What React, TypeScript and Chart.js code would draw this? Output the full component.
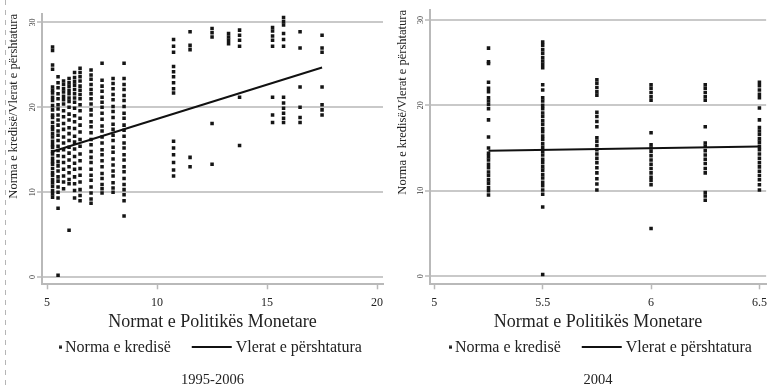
import React, { useEffect, useRef } from 'react';
import { Chart, registerables } from 'chart.js';

Chart.register(...registerables);

const FONT = "'Liberation Serif', 'Times New Roman', serif";

// ---- shared labels / ticks ----
const legendLabels = ['Norma e kredisë', 'Vlerat e përshtatura'];
const xAxisTitle = 'Normat e Politikës Monetare';
const yAxisTitle = 'Norma e kredisë/Vlerat e përshtatura';
const yTickValues = [0, 10, 20, 30];
const xTicks9506 = [5, 10, 15, 20];
const xTicks2004 = [5, 5.5, 6, 6.5];

// ---- panel 1: 1995-2006 ----
const policyRates9506 = [5.25, 5.5, 5.75, 6.0, 6.25, 6.5, 7.0, 7.5, 8.0, 8.5, 10.75, 11.5, 12.5, 13.25, 13.75, 15.25, 15.75, 16.5, 17.5];
const creditRates9506: number[][] = [
  [27.1, 26.7, 25.0, 24.5, 22.4, 22.0, 21.7, 21.2, 20.8, 20.2, 19.7, 19.1, 18.8, 18.2, 17.7, 17.4, 16.9, 16.5, 16.0, 15.6, 15.3, 14.8, 14.5, 14.0, 13.6, 13.3, 12.8, 12.3, 12.0, 11.5, 11.1, 10.7, 10.2, 9.8, 9.4],
  [23.6, 22.9, 22.3, 21.6, 21.0, 20.3, 19.8, 19.1, 18.5, 17.9, 17.2, 16.7, 16.1, 15.4, 14.9, 14.3, 13.6, 13.1, 12.5, 11.8, 11.3, 10.6, 10.0, 9.3, 8.1, 0.2],
  [23.1, 22.7, 22.2, 21.8, 21.3, 20.9, 20.4, 19.6, 18.9, 18.1, 17.4, 16.5, 15.8, 15.0, 14.2, 13.5, 12.7, 11.9, 11.2, 10.4],
  [23.4, 22.9, 22.5, 22.0, 21.6, 21.1, 20.7, 20.0, 19.2, 18.5, 17.6, 16.9, 16.1, 15.3, 14.6, 13.8, 13.0, 12.3, 11.5, 11.0, 5.5],
  [24.1, 23.5, 23.0, 22.6, 22.1, 21.6, 21.1, 20.6, 19.9, 19.0, 18.3, 17.5, 16.6, 15.9, 15.1, 14.2, 13.4, 12.7, 11.8, 11.0, 10.2, 9.3],
  [24.6, 24.1, 23.6, 23.1, 22.5, 22.0, 21.5, 21.0, 20.3, 19.6, 18.7, 17.9, 17.1, 16.2, 15.4, 14.5, 13.7, 12.8, 12.0, 11.2, 10.3, 9.6, 9.0],
  [24.4, 23.8, 23.3, 22.7, 22.1, 21.6, 21.0, 20.4, 19.7, 19.1, 18.3, 17.7, 17.0, 16.2, 15.6, 14.8, 14.1, 13.5, 12.7, 12.0, 11.4, 10.6, 9.9, 9.2, 8.7],
  [25.2, 23.2, 22.5, 21.9, 21.2, 20.6, 20.0, 19.3, 18.6, 17.8, 17.2, 16.5, 15.8, 15.0, 14.4, 13.7, 13.0, 12.2, 11.6, 10.9, 10.4, 9.9],
  [23.4, 22.8, 22.2, 21.5, 20.9, 20.1, 19.5, 18.8, 18.0, 17.4, 16.7, 16.1, 15.3, 14.7, 13.9, 13.2, 12.5, 11.9, 11.1, 10.5, 10.0],
  [25.2, 23.4, 22.7, 22.1, 21.4, 20.8, 20.1, 19.3, 18.7, 17.9, 17.3, 16.6, 15.8, 15.2, 14.4, 13.8, 13.0, 12.4, 11.6, 10.9, 10.3, 9.7, 9.0, 7.2],
  [28.0, 27.2, 26.5, 24.8, 24.2, 23.6, 22.9, 22.2, 21.7, 16.0, 15.2, 14.4, 13.5, 12.6, 11.9],
  [28.9, 27.3, 26.8, 14.1, 13.0],
  [29.3, 28.8, 28.3, 18.1, 13.3],
  [28.7, 28.3, 27.9, 27.5],
  [29.1, 28.5, 27.9, 27.2, 21.2, 15.5],
  [29.4, 29.0, 28.4, 27.9, 27.2, 21.2, 19.1, 18.2],
  [30.6, 30.1, 29.7, 28.7, 28.0, 27.2, 21.2, 20.5, 19.9, 19.3, 18.7, 18.2],
  [28.9, 27.0, 22.4, 20.0, 18.8, 18.2],
  [28.5, 27.0, 26.5, 22.4, 20.3, 19.7, 19.1],
];
const fitX9506 = [5.25, 17.5];
const fitY9506 = [14.8, 24.7];

// ---- panel 2: 2004 ----
const policyRates2004 = [5.25, 5.5, 5.75, 6.0, 6.25, 6.5];
const creditRates2004: number[][] = [
  [26.7, 25.1, 24.9, 22.7, 22.0, 21.6, 20.9, 20.5, 20.1, 19.6, 18.3, 16.3, 15.0, 14.4, 14.0, 13.6, 13.1, 12.7, 12.2, 11.8, 11.3, 10.9, 10.4, 10.0, 9.5],
  [27.4, 27.0, 26.5, 26.1, 25.6, 25.2, 24.8, 24.4, 22.4, 21.8, 20.9, 20.5, 20.0, 19.6, 19.1, 18.7, 18.2, 17.8, 17.3, 16.9, 16.4, 16.0, 15.5, 15.1, 14.6, 14.2, 13.7, 13.3, 12.8, 12.4, 11.9, 11.5, 11.0, 10.6, 10.1, 9.6, 8.1, 0.2],
  [23.0, 22.6, 22.1, 21.6, 21.2, 19.2, 18.7, 18.1, 17.5, 16.2, 15.8, 15.3, 14.8, 14.3, 13.8, 13.3, 12.7, 12.1, 11.4, 10.8, 10.1],
  [22.4, 22.0, 21.5, 21.0, 20.6, 16.8, 15.4, 15.0, 14.6, 14.1, 13.6, 13.1, 12.6, 12.1, 11.6, 11.2, 10.7, 5.6],
  [22.4, 22.0, 21.5, 21.0, 20.6, 17.5, 15.6, 15.2, 14.7, 14.2, 13.7, 13.2, 12.6, 12.1, 9.8, 9.4, 8.9],
  [22.7, 22.3, 21.8, 21.3, 20.9, 19.7, 18.3, 17.4, 17.0, 16.6, 16.1, 15.7, 15.2, 14.8, 14.3, 13.8, 13.3, 12.8, 12.3, 11.8, 11.3, 10.7, 10.1],
];
const fitX2004 = [5.25, 6.5];
const fitY2004 = [14.7, 15.2];

const AXIS_COLOR = '#b9b9b9';
const GRID_COLOR = '#c9c9c9';
const TEXT_COLOR = '#222222';

type PanelProps = {
  xs: number[];
  ys: number[][];
  fitX: number[];
  fitY: number[];
  xTicks: number[];
  xMin: number;
  xMax: number;
  yMin: number;
  yMax: number;
  caption: string;
  width: number;
  left: number;
  padTop: number;
  padRight: number;
  yAxisWidth: number;
  yTitlePad: number;
  dashed?: boolean;
};

function Panel(p: PanelProps) {
  const ref = useRef<HTMLCanvasElement>(null);

  useEffect(() => {
    const dot = document.createElement('canvas');
    dot.width = 68;
    dot.height = 4;
    const dctx = dot.getContext('2d')!;
    dctx.fillStyle = '#1a1a1a';
    dctx.fillRect(64, 0.5, 3, 3);

    const seg = document.createElement('canvas');
    seg.width = 68;
    seg.height = 2;
    const sctx = seg.getContext('2d')!;
    sctx.fillStyle = '#111111';
    sctx.fillRect(26, 0, 40, 2);

    const points: { x: number; y: number }[] = [];
    p.xs.forEach((x, i) => p.ys[i].forEach((y) => points.push({ x, y })));
    const fit = p.fitX.map((x, i) => ({ x, y: p.fitY[i] }));

    const dashPlugin = {
      id: 'leftDash',
      afterDraw(chart: any) {
        if (!p.dashed) return;
        const ctx = chart.ctx;
        ctx.save();
        ctx.setLineDash([5, 5]);
        ctx.strokeStyle = '#b5b5b5';
        ctx.lineWidth = 1;
        ctx.beginPath();
        ctx.moveTo(5.5, 0);
        ctx.lineTo(5.5, chart.height);
        ctx.stroke();
        ctx.restore();
      },
    };

    const chart = new Chart(ref.current!, {
      type: 'scatter',
      data: {
        datasets: [
          {
            type: 'scatter',
            label: legendLabels[0],
            data: points,
            pointStyle: 'rect',
            pointRadius: 2.5,
            backgroundColor: '#151515',
            borderWidth: 0,
            order: 1,
          } as any,
          {
            type: 'line',
            label: legendLabels[1],
            data: fit,
            borderColor: '#111111',
            borderWidth: 2,
            pointRadius: 0,
            fill: false,
            order: 0,
          } as any,
        ],
      },
      options: {
        responsive: false,
        animation: false,
        events: [],
        layout: { padding: { left: 0, right: p.padRight, top: p.padTop, bottom: 0 } },
        plugins: {
          legend: {
            position: 'bottom',
            align: 'start',
            labels: {
              usePointStyle: true,
              pointStyleWidth: 56,
              padding: 1,
              color: TEXT_COLOR,
              font: { family: FONT, size: 16 },
              generateLabels: () => [
                { text: legendLabels[0], pointStyle: dot as any, fillStyle: '#000', strokeStyle: '#000', lineWidth: 0, hidden: false, datasetIndex: 0, fontColor: TEXT_COLOR },
                { text: legendLabels[1], pointStyle: seg as any, fillStyle: '#000', strokeStyle: '#000', lineWidth: 0, hidden: false, datasetIndex: 1, fontColor: TEXT_COLOR },
              ],
            },
          },
          title: {
            display: true,
            text: p.caption,
            position: 'bottom',
            fullSize: false,
            color: TEXT_COLOR,
            font: { family: FONT, size: 14.5, weight: 'normal' },
            padding: { top: 6.3, bottom: 0 },
          },
          tooltip: { enabled: false },
        },
        scales: {
          x: {
            type: 'linear',
            position: 'bottom',
            min: p.xMin,
            max: p.xMax,
            afterBuildTicks: (s: any) => {
              s.ticks = p.xTicks.map((v) => ({ value: v }));
            },
            afterFit: (s: any) => {
              s.height = 54;
            },
            grid: { drawOnChartArea: false, drawTicks: true, tickLength: 5, tickColor: AXIS_COLOR, tickWidth: 1.5 },
            border: { display: true, color: AXIS_COLOR, width: 2 },
            ticks: {
              padding: 6,
              color: TEXT_COLOR,
              font: { family: FONT, size: 12 },
              maxRotation: 0,
              autoSkip: false,
              callback: (v: any) => String(Number(v)),
            },
            title: { display: true, text: xAxisTitle, color: TEXT_COLOR, font: { family: FONT, size: 18 }, padding: { top: 0, bottom: 5 } },
          },
          y: {
            type: 'linear',
            min: p.yMin,
            max: p.yMax,
            afterBuildTicks: (s: any) => {
              s.ticks = yTickValues.map((v) => ({ value: v }));
            },
            afterFit: (s: any) => {
              s.width = p.yAxisWidth;
            },
            grid: { color: GRID_COLOR, lineWidth: 2, drawTicks: true, tickLength: 5, tickColor: AXIS_COLOR, tickWidth: 1.5 },
            border: { display: true, color: AXIS_COLOR, width: 2 },
            ticks: {
              minRotation: 90,
              maxRotation: 90,
              crossAlign: 'center',
              padding: 0,
              color: '#333333',
              font: { family: FONT, size: 8 },
              autoSkip: false,
              callback: (v: any) => String(Number(v)),
            },
            title: { display: true, text: yAxisTitle, align: 'end', color: TEXT_COLOR, font: { family: FONT, size: 12.5 }, padding: { top: p.yTitlePad, bottom: 0 } },
          },
        },
      } as any,
      plugins: [dashPlugin],
    });
    return () => chart.destroy();
  }, []);

  return (
    <canvas
      ref={ref}
      width={p.width}
      height={389}
      style={{ position: 'absolute', left: p.left, top: 0, width: p.width, height: 389 }}
    />
  );
}

export default function App() {
  return (
    <div style={{ position: 'absolute', left: 0, top: 0, width: 773, height: 389, overflow: 'hidden', background: '#ffffff' }}>
      <Panel
        xs={policyRates9506}
        ys={creditRates9506}
        fitX={fitX9506}
        fitY={fitY9506}
        xTicks={xTicks9506}
        xMin={4.77}
        xMax={20.27}
        yMin={-0.86}
        yMax={31.0}
        caption="1995-2006"
        width={390}
        left={0}
        padTop={14}
        padRight={7}
        yAxisWidth={42}
        yTitlePad={6.5}
        dashed
      />
      <Panel
        xs={policyRates2004}
        ys={creditRates2004}
        fitX={fitX2004}
        fitY={fitY2004}
        xTicks={xTicks2004}
        xMin={4.98}
        xMax={6.531}
        yMin={-0.94}
        yMax={31.16}
        caption="2004"
        width={383}
        left={390}
        padTop={10}
        padRight={3}
        yAxisWidth={40}
        yTitlePad={5}
      />
    </div>
  );
}
